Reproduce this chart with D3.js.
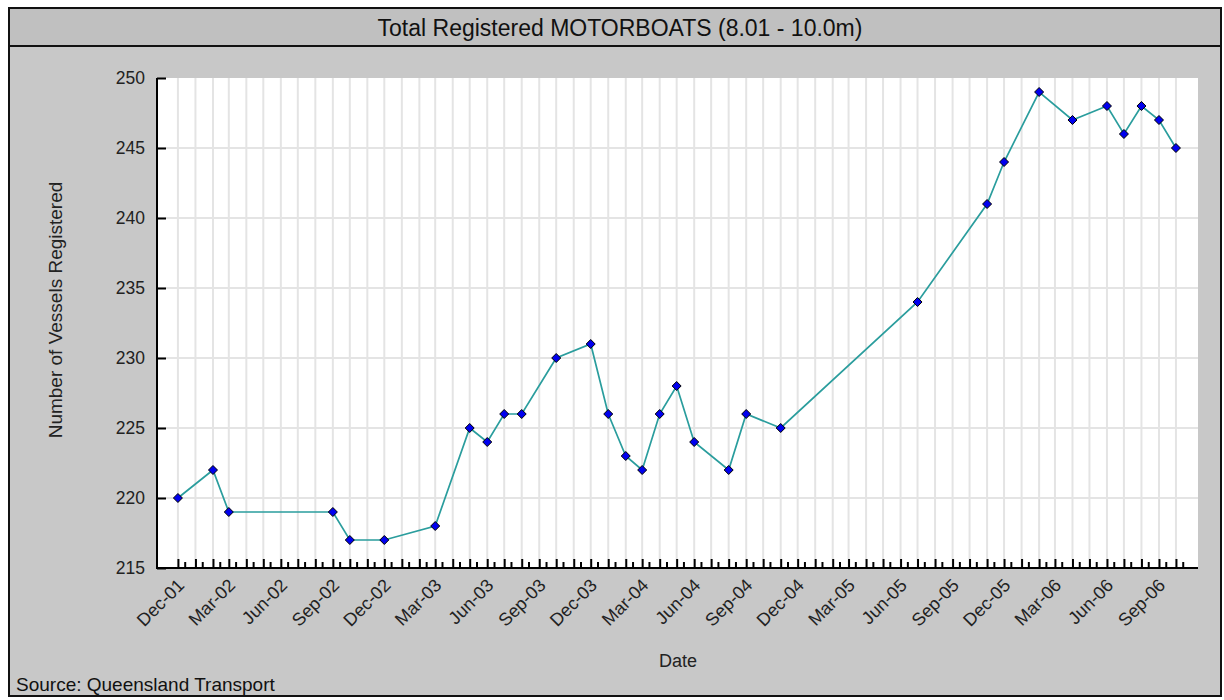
<!DOCTYPE html>
<html>
<head>
<meta charset="utf-8">
<script src="https://cdn.jsdelivr.net/npm/d3@7"></script>
<style>
  html, body { margin: 0; padding: 0; background: #ffffff; }
  svg { display: block; font-family: "Liberation Sans", Arial, sans-serif; }
</style>
</head>
<body>
<svg id="chart" width="1224" height="700"></svg>
<script>
// ---- Data ----
const titleText = "Total Registered MOTORBOATS (8.01 - 10.0m)";
const yAxisTitle = "Number of Vessels Registered";
const xAxisTitle = "Date";
const sourceText = "Source: Queensland Transport";

const periods = [
  "2001-12", "2002-02", "2002-03", "2002-09", "2002-10", "2002-12",
  "2003-03", "2003-05", "2003-06", "2003-07", "2003-08", "2003-10", "2003-12",
  "2004-01", "2004-02", "2004-03", "2004-04", "2004-05", "2004-06", "2004-08",
  "2004-09", "2004-11", "2005-07", "2005-11", "2005-12", "2006-02", "2006-04",
  "2006-06", "2006-07", "2006-08", "2006-09", "2006-10"
];
const vessels = [
  220, 222, 219, 219, 217, 217,
  218, 225, 224, 226, 226, 230, 231,
  226, 223, 222, 226, 228, 224, 222,
  226, 225, 234, 241, 244, 249, 247,
  248, 246, 248, 247, 245
];
const yTicks = [215, 220, 225, 230, 235, 240, 245, 250];
const yDomain = [215, 250];

// ---- Layout ----
const svg = d3.select("#chart");
const frame = { x: 9, y: 8, w: 1212, h: 688 };
const titleH = 38;
const plot = { left: 157, top: 78, right: 1198, bottom: 568 };

const parse = d3.timeParse("%Y-%m");
const data = periods.map((p, i) => ({ date: parse(p), value: vessels[i] }));
const first = data[0].date, last = data[data.length - 1].date;

const x = d3.scaleTime()
  .domain([d3.timeDay.offset(first, -37), d3.timeDay.offset(last, 39)])
  .range([plot.left, plot.right]);
const y = d3.scaleLinear().domain(yDomain).range([plot.bottom, plot.top]);

// frame background
svg.append("rect").attr("x", frame.x).attr("y", frame.y)
  .attr("width", frame.w).attr("height", frame.h)
  .attr("fill", "#c8c8c8");
svg.append("rect").attr("x", frame.x).attr("y", frame.y)
  .attr("width", frame.w).attr("height", titleH)
  .attr("fill", "#c0c0c0");
svg.append("line").attr("x1", frame.x).attr("x2", frame.x + frame.w)
  .attr("y1", frame.y + titleH).attr("y2", frame.y + titleH)
  .attr("stroke", "#111").attr("stroke-width", 2);
svg.append("rect").attr("x", frame.x).attr("y", frame.y)
  .attr("width", frame.w).attr("height", frame.h)
  .attr("fill", "none").attr("stroke", "#111").attr("stroke-width", 2);

svg.append("text").attr("x", 620).attr("y", 36)
  .attr("text-anchor", "middle").attr("font-size", 23).attr("fill", "#111")
  .text(titleText);

// plot background
svg.append("rect").attr("x", plot.left).attr("y", plot.top)
  .attr("width", plot.right - plot.left).attr("height", plot.bottom - plot.top)
  .attr("fill", "#ffffff");

// gridlines
const monthTicks = d3.timeMonth.range(first, d3.timeDay.offset(last, 1));
svg.append("g").selectAll("line").data(monthTicks).join("line")
  .attr("x1", d => x(d)).attr("x2", d => x(d))
  .attr("y1", plot.top).attr("y2", plot.bottom)
  .attr("stroke", "#e4e4e4").attr("stroke-width", 2);
svg.append("g").selectAll("line").data(yTicks.filter(t => t > yDomain[0] && t < yDomain[1])).join("line")
  .attr("x1", plot.left).attr("x2", plot.right)
  .attr("y1", d => y(d)).attr("y2", d => y(d))
  .attr("stroke", "#e4e4e4").attr("stroke-width", 2);

// x axis (ticks pointing inward)
const xAxis = d3.axisTop(x).tickValues(monthTicks).tickSize(9).tickFormat("");
const gx = svg.append("g").attr("transform", `translate(0,${plot.bottom})`).call(xAxis);
gx.select(".domain").remove();
gx.selectAll(".tick line").attr("stroke", "#000").attr("stroke-width", 2);
const minorTicks = monthTicks.map(d => d3.timeDay.offset(d, 12));
const xMinor = d3.axisTop(x).tickValues(minorTicks).tickSize(6).tickFormat("");
const gxm = svg.append("g").attr("transform", `translate(0,${plot.bottom})`).call(xMinor);
gxm.select(".domain").remove();
gxm.selectAll(".tick line").attr("stroke", "#000").attr("stroke-width", 2);

// x labels every 3 months
const labelTicks = monthTicks.filter(d => d.getMonth() % 3 === 2);
const fmt = d3.timeFormat("%b-%y");
svg.append("g").selectAll("text").data(labelTicks).join("text")
  .attr("transform", d => `translate(${x(d) + 3},${plot.bottom + 14}) rotate(-45)`)
  .attr("text-anchor", "end").attr("dy", "0.35em")
  .attr("font-size", 18).attr("fill", "#222")
  .text(d => fmt(d));

// y axis (ticks inward)
const yAxis = d3.axisRight(y).tickValues(yTicks).tickSize(9).tickFormat("");
const gy = svg.append("g").attr("transform", `translate(${plot.left},0)`).call(yAxis);
gy.select(".domain").remove();
gy.selectAll(".tick line").attr("stroke", "#000").attr("stroke-width", 2);
svg.append("g").selectAll("text").data(yTicks).join("text")
  .attr("x", plot.left - 12).attr("y", d => y(d)).attr("dy", "0.35em")
  .attr("text-anchor", "end").attr("font-size", 17.5).attr("fill", "#222")
  .text(d => d);

// axis lines
svg.append("line").attr("x1", plot.left).attr("x2", plot.left)
  .attr("y1", plot.top).attr("y2", plot.bottom + 1)
  .attr("stroke", "#000").attr("stroke-width", 2);
svg.append("line").attr("x1", plot.left - 1).attr("x2", plot.right)
  .attr("y1", plot.bottom).attr("y2", plot.bottom)
  .attr("stroke", "#000").attr("stroke-width", 2);

// series line
svg.append("path").datum(data)
  .attr("d", d3.line().x(d => x(d.date)).y(d => y(d.value)))
  .attr("fill", "none").attr("stroke", "#2a9d9d").attr("stroke-width", 1.7);

// markers
svg.append("g").selectAll("path").data(data).join("path")
  .attr("transform", d => `translate(${x(d.date)},${y(d.value)})`)
  .attr("d", "M0,-4.5L4.5,0L0,4.5L-4.5,0Z")
  .attr("fill", "#0000ee").attr("stroke", "#000").attr("stroke-width", 1);

// axis titles
svg.append("text").attr("transform", `translate(62,310) rotate(-90)`)
  .attr("text-anchor", "middle").attr("font-size", 19).attr("fill", "#222")
  .text(yAxisTitle);
svg.append("text").attr("x", 678).attr("y", 667)
  .attr("text-anchor", "middle").attr("font-size", 18).attr("fill", "#222")
  .text(xAxisTitle);
svg.append("text").attr("x", 16).attr("y", 691)
  .attr("font-size", 19).attr("fill", "#111")
  .text(sourceText);
</script>
</body>
</html>
